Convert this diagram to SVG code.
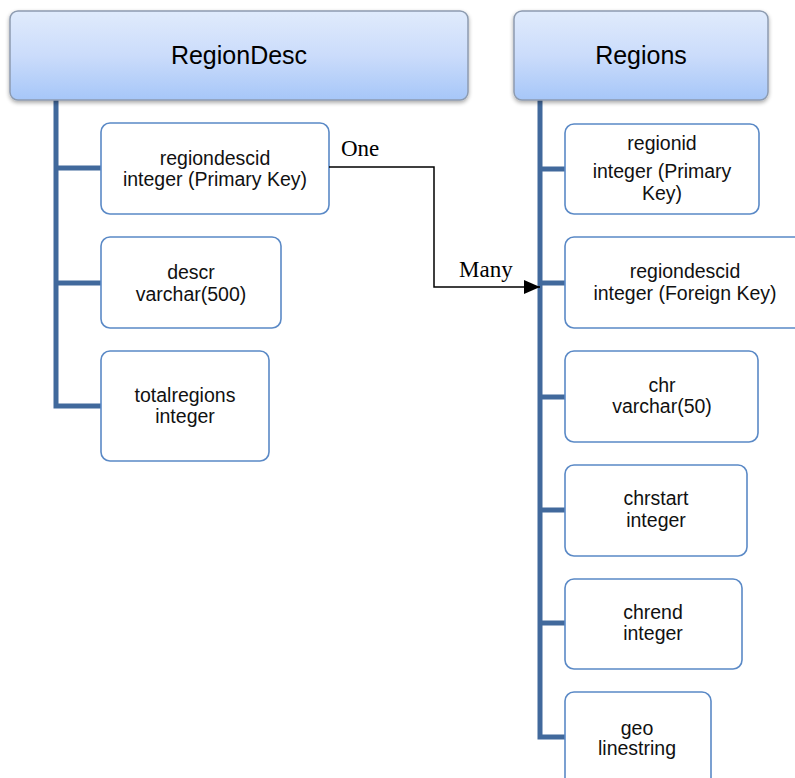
<svg xmlns="http://www.w3.org/2000/svg" width="795" height="778" viewBox="0 0 795 778">
  <defs>
    <linearGradient id="hdrFill" x1="0" y1="0" x2="0" y2="1">
      <stop offset="0" stop-color="#e0ebfc"/>
      <stop offset="0.5" stop-color="#cbdcfb"/>
      <stop offset="1" stop-color="#a6c6f8"/>
    </linearGradient>
    <filter id="shadow" x="-5%" y="-10%" width="110%" height="130%">
      <feGaussianBlur in="SourceAlpha" stdDeviation="2"/>
      <feOffset dx="0" dy="2" result="b"/>
      <feComponentTransfer><feFuncA type="linear" slope="0.35"/></feComponentTransfer>
      <feMerge><feMergeNode/><feMergeNode in="SourceGraphic"/></feMerge>
    </filter>
    <marker id="arrow" viewBox="0 0 16 14" refX="16" refY="7" markerWidth="16" markerHeight="14" markerUnits="userSpaceOnUse" orient="auto">
      <path d="M0,0 L16,7 L0,14 Z" fill="#000"/>
    </marker>
    <style>
      .hdr { fill: url(#hdrFill); stroke: #8d9bb0; stroke-width: 1.5; filter: url(#shadow); }
      .hdrText { font-family: "Liberation Sans", Arial, sans-serif; font-size: 25px; fill: #000; text-anchor: middle; }
      .field { fill: #fff; stroke: #5a89c6; stroke-width: 1.6; }
      .fieldText { font-family: "Liberation Sans", Arial, sans-serif; font-size: 19.5px; fill: #111; text-anchor: middle; }
      .tree { stroke: #41699c; stroke-width: 5; fill: none; }
      .rel { stroke: #000; stroke-width: 1.5; fill: none; }
      .relText { font-family: "Liberation Serif", "Times New Roman", serif; font-size: 23px; fill: #000; }
    </style>
  </defs>

  <!-- tree lines joining each table header to its fields -->
  <g id="tree-lines">
    <path class="tree" d="M56,100 V406 H101 M56,168 H101 M56,283 H101"/>
    <path class="tree" d="M540,100 V737 H565 M540,169 H565 M540,283 H565 M540,397 H565 M540,510 H565 M540,623 H565"/>
  </g>

  <!-- table headers -->
  <g id="RegionDesc">
    <rect class="hdr" x="10" y="11" width="458" height="89" rx="8"/>
    <text class="hdrText" x="239" y="64">RegionDesc</text>
  </g>
  <g id="Regions">
    <rect class="hdr" x="514" y="11" width="254" height="89" rx="8"/>
    <text class="hdrText" x="641" y="64">Regions</text>
  </g>

  <!-- RegionDesc fields -->
  <g id="rd-regiondescid">
    <rect class="field" x="101" y="123" width="228" height="91" rx="9"/>
    <text class="fieldText" x="215" y="165">regiondescid</text>
    <text class="fieldText" x="215" y="186">integer (Primary Key)</text>
  </g>
  <g id="rd-descr">
    <rect class="field" x="101" y="237" width="180" height="91" rx="9"/>
    <text class="fieldText" x="191" y="279">descr</text>
    <text class="fieldText" x="191" y="301">varchar(500)</text>
  </g>
  <g id="rd-totalregions">
    <rect class="field" x="101" y="351" width="168" height="110" rx="9"/>
    <text class="fieldText" x="185" y="402">totalregions</text>
    <text class="fieldText" x="185" y="423">integer</text>
  </g>

  <!-- Regions fields -->
  <g id="r-regionid">
    <rect class="field" x="565" y="124" width="194" height="90" rx="9"/>
    <text class="fieldText" x="662" y="150">regionid</text>
    <text class="fieldText" x="662" y="178">integer (Primary</text>
    <text class="fieldText" x="662" y="200">Key)</text>
  </g>
  <g id="r-regiondescid">
    <rect class="field" x="565" y="237" width="240" height="91" rx="9"/>
    <text class="fieldText" x="685" y="278">regiondescid</text>
    <text class="fieldText" x="685" y="300">integer (Foreign Key)</text>
  </g>
  <g id="r-chr">
    <rect class="field" x="565" y="351" width="193" height="91" rx="9"/>
    <text class="fieldText" x="662" y="392">chr</text>
    <text class="fieldText" x="662" y="413">varchar(50)</text>
  </g>
  <g id="r-chrstart">
    <rect class="field" x="565" y="465" width="182" height="91" rx="9"/>
    <text class="fieldText" x="656" y="505">chrstart</text>
    <text class="fieldText" x="656" y="527">integer</text>
  </g>
  <g id="r-chrend">
    <rect class="field" x="565" y="579" width="177" height="90" rx="9"/>
    <text class="fieldText" x="653" y="619">chrend</text>
    <text class="fieldText" x="653" y="640">integer</text>
  </g>
  <g id="r-geo">
    <rect class="field" x="565" y="692" width="146" height="100" rx="9"/>
    <text class="fieldText" x="637" y="735">geo</text>
    <text class="fieldText" x="637" y="755">linestring</text>
  </g>

  <!-- one-to-many relationship -->
  <g id="connectors">
    <path class="rel" d="M329,167 H434 V287 H540" marker-end="url(#arrow)"/>
    <text class="relText" x="341" y="156">One</text>
    <text class="relText" x="459" y="277">Many</text>
  </g>
</svg>
